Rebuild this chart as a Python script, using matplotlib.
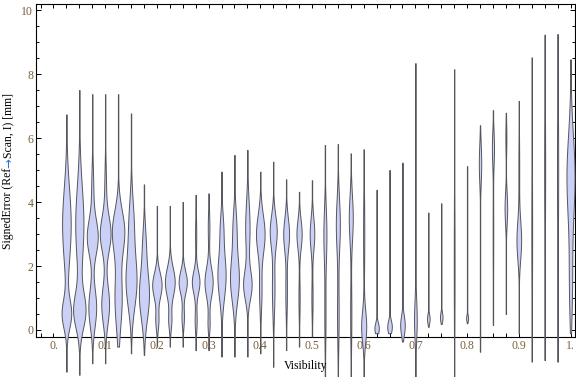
import numpy as np
import matplotlib
matplotlib.use("Agg")
import matplotlib.pyplot as plt
from matplotlib.ticker import FixedLocator, MultipleLocator

plt.rcParams['font.family'] = ['Liberation Serif', 'DejaVu Serif']

# ---------------- data ----------------
VISIBILITY = [0.025, 0.05, 0.075, 0.1, 0.125, 0.15, 0.175, 0.2, 0.225, 0.25,
              0.275, 0.3, 0.325, 0.35, 0.375, 0.4, 0.425, 0.45, 0.475, 0.5,
              0.525, 0.55, 0.575, 0.6, 0.625, 0.65, 0.675, 0.7, 0.725, 0.75,
              0.775, 0.8, 0.825, 0.85, 0.875, 0.9, 0.925, 0.95, 0.975, 1.0]

ERR_MIN = [-1.30, -1.40, -1.04, -1.04, -0.52, -0.73, -0.78, -0.52, -0.52, -0.52,
           -0.63, -0.63, -0.83, -0.83, -0.83, -0.73, -1.15, -0.63, -0.52, -0.20,
           -1.60, -1.60, -1.60, -1.60, -0.10, -0.10, -0.36, -1.60, 0.10, 0.19,
           -1.60, 0.21, -0.68, 0.16, 0.50, -0.10, -0.99, -0.94, -0.99, -0.10]

ERR_MAX = [6.74, 7.50, 7.37, 7.37, 7.37, 6.77, 4.55, 3.88, 3.88, 4.00,
           4.22, 4.27, 4.95, 5.47, 5.63, 4.95, 5.26, 4.71, 4.32, 4.68,
           5.78, 5.81, 5.52, 5.65, 4.38, 5.00, 5.23, 8.34, 3.67, 3.96,
           8.15, 5.12, 6.40, 6.87, 6.79, 7.16, 8.52, 9.23, 9.25, 8.46]

# density modes per bin: (centre, spread, relative density)
MODES = [
    [(0.5, 0.45, 4.6), (3.3, 1.15, 4.3)],
    [(0.6, 0.55, 5.9), (3.3, 1.2, 4.1)],
    [(0.7, 0.6, 3.9), (2.9, 0.55, 5.4), (4.4, 0.7, 1.0)],
    [(0.8, 0.6, 3.9), (3.0, 0.55, 5.3), (4.5, 0.7, 0.8)],
    [(1.0, 0.9, 3.6), (3.1, 0.65, 6.0)],
    [(1.5, 0.8, 5.3), (3.3, 0.8, 2.5)],
    [(1.1, 0.75, 5.0), (2.7, 0.6, 1.5)],
    [(0.3, 0.3, 1.5), (1.4, 0.4, 4.7)],
    [(0.3, 0.3, 1.5), (1.5, 0.45, 4.9)],
    [(0.4, 0.3, 1.2), (1.5, 0.35, 4.1)],
    [(0.3, 0.35, 1.0), (1.5, 0.35, 3.8), (3.0, 0.5, 0.6)],
    [(0.2, 0.3, 1.0), (1.5, 0.45, 4.1), (3.2, 0.5, 0.8)],
    [(1.7, 0.7, 4.1), (3.2, 0.5, 1.5)],
    [(1.6, 0.7, 4.4), (3.2, 0.6, 1.8)],
    [(1.4, 0.45, 4.1), (3.2, 0.8, 2.2)],
    [(1.2, 0.6, 1.2), (3.0, 0.6, 4.3)],
    [(1.3, 0.8, 1.3), (3.1, 0.5, 3.4)],
    [(1.2, 0.7, 0.8), (3.0, 0.5, 2.9)],
    [(1.0, 0.6, 0.6), (3.0, 0.45, 2.6)],
    [(1.0, 0.6, 0.6), (3.0, 0.5, 2.3)],
    [(0.5, 1.0, 0.6), (3.0, 0.8, 1.5)],
    [(0.5, 1.0, 0.8), (3.3, 0.8, 2.0)],
    [(0.5, 1.0, 0.6), (3.5, 0.7, 2.0)],
    [(0.1, 0.5, 2.5), (3.0, 1.2, 0.6)],
    [(0.05, 0.18, 2.2)],
    [(0.1, 0.2, 2.3)],
    [(0.15, 0.3, 2.3)],
    [(0.3, 0.6, 1.3), (4.0, 2.0, 0.3)],
    [(0.35, 0.15, 1.3)],
    [(0.4, 0.15, 1.3)],
    [(2.0, 2.0, 0.4)],
    [(0.37, 0.1, 1.0)],
    [(5.2, 0.6, 1.2)],
    [(3.0, 1.5, 0.3), (5.7, 0.5, 1.0)],
    [(3.8, 0.5, 1.3), (6.0, 0.5, 0.5)],
    [(2.8, 0.6, 2.3), (5.0, 1.0, 0.4)],
    [(3.0, 2.0, 0.4)],
    [(5.0, 2.0, 0.5)],
    [(5.0, 2.0, 0.6)],
    [(1.5, 1.2, 1.5), (4.8, 1.3, 4.0)],
]

X_TICKS = [0.0, 0.1, 0.2, 0.3, 0.4, 0.5, 0.6, 0.7, 0.8, 0.9, 1.0]
X_TICK_LABELS = ["0.", "0.1", "0.2", "0.3", "0.4", "0.5", "0.6", "0.7", "0.8", "0.9", "1."]
Y_TICKS = [0, 2, 4, 6, 8, 10]
Y_TICK_LABELS = ["0", "2", "4", "6", "8", "10"]

# ---------------- style ----------------
W, H = 576, 377
FILL = '#cbd1f6'
EDGE = '#55555c'
TICKCOL = '#7a5e38'
FS = 8.5

fig = plt.figure(figsize=(W / 100, H / 100), dpi=100)
ax = fig.add_axes([36 / W, 1 - 337 / H, 539 / W, (337 - 4.3) / H])
ax.set_xlim(-0.0338, 1.0087)
ax.set_ylim(-0.219, 10.18)

PX_PER_X = 517.0  # pixels per x data unit
for x, lo, hi, comps in zip(VISIBILITY, ERR_MIN, ERR_MAX, MODES):
    yy = np.linspace(lo, hi, 600)
    dens = np.zeros_like(yy)
    for mu, sd, a in comps:
        dens += a * np.exp(-0.5 * ((yy - mu) / sd) ** 2)
    half = np.maximum(dens, 0.2) / PX_PER_X
    ax.fill_betweenx(yy, x - half, x + half, facecolor=FILL, edgecolor=EDGE,
                     linewidth=0.7, clip_on=False, zorder=3)

for s in ax.spines.values():
    s.set_color('black')
    s.set_linewidth(0.8)

ax.xaxis.set_major_locator(FixedLocator(X_TICKS))
ax.set_xticklabels(X_TICK_LABELS)
ax.xaxis.set_minor_locator(MultipleLocator(0.025))
ax.yaxis.set_major_locator(FixedLocator(Y_TICKS))
ax.set_yticklabels(Y_TICK_LABELS)
ax.yaxis.set_minor_locator(MultipleLocator(0.5))

ax.tick_params(axis='x', which='both', direction='in', length=2.9, width=0.7,
               top=True, bottom=True, labelsize=FS, labelcolor=TICKCOL, pad=2.5,
               color='black')
ax.tick_params(axis='y', which='major', direction='in', length=3.6, width=0.7,
               left=True, right=True, labelsize=FS, labelcolor=TICKCOL, pad=2.0,
               color='black')
ax.tick_params(axis='y', which='minor', direction='in', length=2.2, width=0.7,
               left=True, right=True, color='black')

fig.text(305.5 / W, 1 - 366 / H, "Visibility", ha='center', va='center',
         fontsize=FS, color='black')

# multi-coloured rotated y label
parts = [("SignedError (Ref", 'black', ['Liberation Serif']),
         ("\u2192", '#2f6fd6', ['DejaVu Sans']),
         ("Scan, I) [mm]", 'black', ['Liberation Serif'])]
texts = [fig.text(0, 0, p, rotation=90, fontsize=FS, color=c, family=fam,
                  ha='center', va='bottom')
         for p, c, fam in parts]
renderer = fig.canvas.get_renderer()
heights = [t.get_window_extent(renderer).height for t in texts]
total = sum(heights)
ycenter = H - 170.7
ystart = ycenter - total / 2
xc = 8.5
for t, h in zip(texts, heights):
    t.set_position((xc / W, ystart / H))
    ystart += h

fig.savefig("out.png", dpi=100)
